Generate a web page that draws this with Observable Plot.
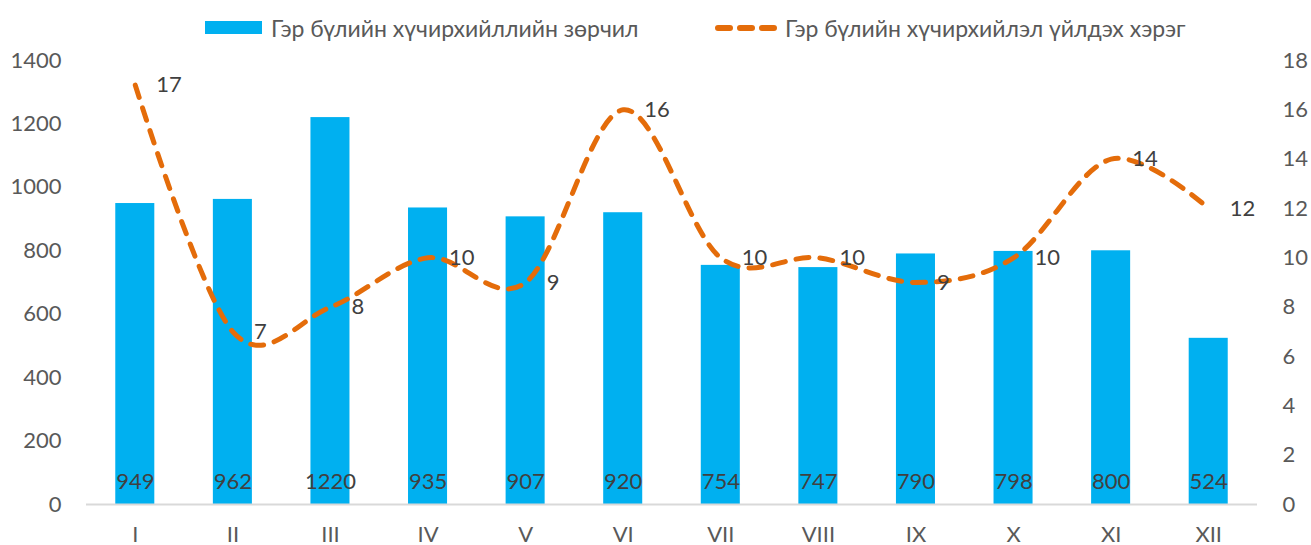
<!DOCTYPE html>
<html>
<head>
<meta charset="utf-8">
<script src="https://cdn.jsdelivr.net/npm/d3@7"></script>
<script src="https://cdn.jsdelivr.net/npm/@observablehq/plot@0.6"></script>
<style>
  body { margin: 0; background: #fff; font-family: Lato, "Noto Sans", sans-serif; }
  #legend { position: relative; width: 1311px; height: 40px; color: #595959; font-size: 23px; }
  #legend .item { position: absolute; top: 14px; height: 28px; display: flex; align-items: center; white-space: nowrap; }
  #legend svg { display: block; }
</style>
</head>
<body>
<div id="legend">
  <div class="item" style="left:205px;">
    <svg width="66" height="28"><rect x="0" y="7" width="57" height="13" fill="#00B0F0"></rect></svg>
    <span id="lg1"></span>
  </div>
  <div class="item" style="left:713px;">
    <svg width="72" height="28"><line x1="5" x2="63" y1="14" y2="14" stroke="#E46C0A" stroke-width="6" stroke-dasharray="12,10" stroke-linecap="round"></line></svg>
    <span id="lg2"></span>
  </div>
</div>
<div id="chart"></div>
<script>
const months = ["I","II","III","IV","V","VI","VII","VIII","IX","X","XI","XII"];
const violations = [949, 962, 1220, 935, 907, 920, 754, 747, 790, 798, 800, 524];
const crimes = [17, 7, 8, 10, 9, 16, 10, 10, 9, 10, 14, 12];
const leftTicks = [0, 200, 400, 600, 800, 1000, 1200, 1400];
const rightTicks = [0, 2, 4, 6, 8, 10, 12, 14, 16, 18];
const seriesNames = ["Гэр бүлийн хүчирхийллийн зөрчил", "Гэр бүлийн хүчирхийлэл үйлдэх хэрэг"];

document.getElementById("lg1").textContent = seriesNames[0];
document.getElementById("lg2").textContent = seriesNames[1];

const leftMax = 1400, rightMax = 18;
const k = leftMax / rightMax;

const bars = months.map((m, i) => ({month: m, value: violations[i]}));
const line = months.map((m, i) => ({month: m, value: crimes[i], scaled: crimes[i] * k}));

const chart = Plot.plot({
  width: 1311,
  height: 505,
  marginTop: 20,
  marginBottom: 41,
  marginLeft: 86,
  marginRight: 54,
  style: {fontFamily: "Lato, 'Noto Sans', sans-serif", fontSize: "22px", color: "#595959", background: "#fff", overflow: "visible"},
  x: {domain: months, paddingInner: 0.6, paddingOuter: 0.3, round: false, label: null},
  y: {domain: [0, leftMax], label: null},
  marks: [
    Plot.barY(bars, {x: "month", y: "value", fill: "#00B0F0"}),
    Plot.ruleY([0], {stroke: "#D9D9D9", strokeWidth: 2}),
    Plot.axisY(leftTicks, {anchor: "left", tickSize: 0, tickPadding: 25, label: null, tickFormat: d => String(d), fill: "#595959", fontSize: 22}),
    Plot.axisY(rightTicks.map(v => v * k), {anchor: "right", tickSize: 0, tickPadding: 25, label: null, tickFormat: d => String(Math.round(d / k)), fill: "#595959", textAnchor: "start", fontSize: 22}),
    Plot.axisX({tickSize: 0, tickPadding: 22, label: null, fill: "#595959", fontSize: 22}),
    Plot.text(bars, {x: "month", y: 0, text: d => String(d.value), dy: -23, fill: "#404040", fontSize: 22}),
    Plot.line(line, {x: "month", y: "scaled", stroke: "#E46C0A", strokeWidth: 5, strokeDasharray: "13,11", strokeLinecap: "round", curve: "cardinal", tension: 0}),
    Plot.text(line, {x: "month", y: "scaled", text: d => String(d.value), textAnchor: "start", dx: 21, fill: "#404040", fontSize: 22})
  ]
});
document.getElementById("chart").appendChild(chart);
</script>
</body>
</html>
